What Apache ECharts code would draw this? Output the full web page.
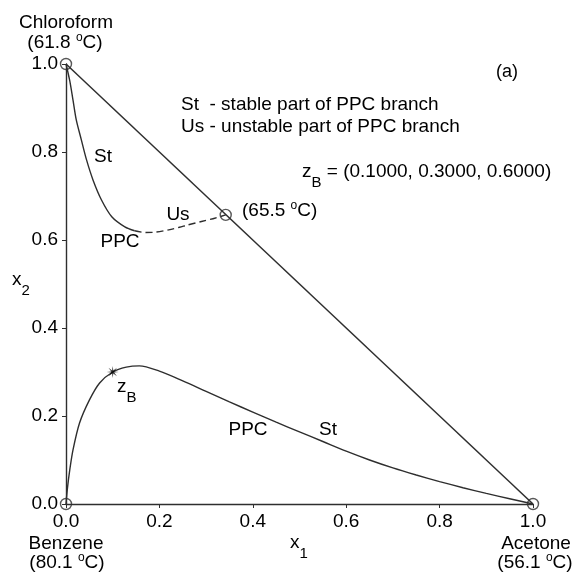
<!DOCTYPE html>
<html>
<head>
<meta charset="utf-8">
<script src="https://cdn.jsdelivr.net/npm/echarts@6/dist/echarts.min.js"></script>
<style>
html,body{margin:0;padding:0;background:#fff;}
#c{width:574px;height:574px;}
</style>
</head>
<body>
<div id="c"></div>
<script>
// ---- data ----
var xTicks = [0, 0.2, 0.4, 0.6, 0.8, 1.0];
var yTicks = [0, 0.2, 0.4, 0.6, 0.8, 1.0];
var diagonal = [[0, 1], [1, 0]];
var upperStable = [[0,1],[0.008,0.962],[0.015,0.918],[0.022,0.873],[0.033,0.827],[0.044,0.782],[0.058,0.736],[0.076,0.691],[0.098,0.653],[0.126,0.630],[0.147,0.621]];
var upperUnstable = [[0.147,0.621],[0.170,0.617],[0.193,0.618],[0.220,0.623],[0.243,0.629],[0.260,0.634],[0.290,0.642],[0.320,0.650],[0.342,0.657]];
var lowerStable = [[0,0],[0.003,0.035],[0.008,0.077],[0.015,0.123],[0.029,0.184],[0.050,0.236],[0.072,0.275],[0.100,0.300],[0.129,0.311],[0.157,0.314],[0.200,0.302],[0.250,0.280],[0.300,0.256],[0.350,0.232],[0.400,0.209],[0.450,0.186],[0.500,0.164],[0.550,0.142],[0.600,0.120],[0.650,0.100],[0.700,0.082],[0.750,0.066],[0.800,0.051],[0.850,0.037],[0.900,0.024],[0.950,0.012],[1,0]];
var singularPoints = [[0,1],[0,0],[1,0],[0.342,0.657]];
var feedPoint = [[0.1, 0.3]];

// ---- styling ----
var FONT = '"Liberation Sans", Arial, Helvetica, sans-serif';
var TXT = '#000000';
var LINE = '#2e2e2e';

function asteriskPath() {
  var pts = [];
  for (var k = 0; k < 16; k++) {
    var a = k * Math.PI / 8;
    var r = (k % 2 === 0) ? 10 : 2.6;
    pts.push((r * Math.cos(a)).toFixed(2) + ' ' + (r * Math.sin(a)).toFixed(2));
  }
  return 'path://M' + pts.join(' L') + ' Z';
}

var richDeg = {
  sup: { fontSize: 12, lineHeight: 12, verticalAlign: 'top', fontFamily: FONT, fill: TXT }
};
var richSub = {
  sub: { fontSize: 15, lineHeight: 15, verticalAlign: 'bottom', fontFamily: FONT, fill: TXT }
};

function txt(x, y, text, align, size, rich, lh) {
  return {
    type: 'text', x: x, y: y, z: 100,
    style: {
      text: text, fill: TXT, fontSize: size || 19, fontFamily: FONT,
      align: align || 'center', verticalAlign: 'middle',
      rich: rich || {}, lineHeight: lh || (size || 19) + 3
    }
  };
}

function makeAxis() {
  return {
    type: 'value', min: 0, max: 1, interval: 0.2,
    axisLine: { show: true, onZero: false, lineStyle: { color: LINE, width: 1.4 } },
    axisTick: { show: true, inside: false, length: 4, lineStyle: { color: LINE } },
    splitLine: { show: false },
    axisLabel: { color: TXT, fontSize: 19, fontFamily: FONT, margin: 8,
      formatter: function (v) { return v.toFixed(1); } }
  };
}

var chart = echarts.init(document.getElementById('c'), null, {renderer: 'canvas'});

var option = {
  animation: false,
  backgroundColor: '#fff',
  grid: { left: 66, right: 41, top: 64, bottom: 70 },
  xAxis: makeAxis(),
  yAxis: makeAxis(),
  series: [
    { type: 'line', data: diagonal, symbol: 'none', lineStyle: { color: LINE, width: 1.5 } },
    { type: 'line', data: upperStable, symbol: 'none', smooth: 0.3, lineStyle: { color: LINE, width: 1.4 } },
    { type: 'line', data: upperUnstable, symbol: 'none', smooth: 0.3, lineStyle: { color: LINE, width: 1.4, type: [7, 4] } },
    { type: 'line', data: lowerStable, symbol: 'none', smooth: 0.3, lineStyle: { color: LINE, width: 1.4 } },
    { type: 'scatter', data: singularPoints, symbol: 'circle', symbolSize: 11, z: 5,
      itemStyle: { color: 'rgba(0,0,0,0)', borderColor: LINE, borderWidth: 1.4 } },
    { type: 'scatter', data: feedPoint, symbol: asteriskPath(), symbolSize: 12, z: 6,
      itemStyle: { color: '#000' } }
  ],
  graphic: [
    txt(66, 23, 'Chloroform'),
    txt(65, 43, '(61.8 {sup|o}C)', 'center', 19, richDeg),
    txt(507, 72, '(a)', 'center', 18),
    txt(181, 105, 'St  - stable part of PPC branch', 'left'),
    txt(181, 127, 'Us - unstable part of PPC branch', 'left'),
    txt(302, 172, 'z{sub|B} = (0.1000, 0.3000, 0.6000)', 'left', 19, richSub, 36),
    txt(103, 157, 'St'),
    txt(178, 215, 'Us'),
    txt(120, 242, 'PPC'),
    txt(242, 211, '(65.5 {sup|o}C)', 'left', 19, richDeg),
    txt(117, 387, 'z{sub|B}', 'left', 19, richSub, 36),
    txt(248, 430, 'PPC'),
    txt(328, 430, 'St'),
    txt(12, 280, 'x{sub|2}', 'left', 19, richSub, 36),
    txt(290, 543, 'x{sub|1}', 'left', 19, richSub, 36),
    txt(66, 544, 'Benzene'),
    txt(67, 563, '(80.1 {sup|o}C)', 'center', 19, richDeg),
    txt(536, 544, 'Acetone'),
    txt(535, 563, '(56.1 {sup|o}C)', 'center', 19, richDeg)
  ]
};
chart.setOption(option);
</script>
</body>
</html>
